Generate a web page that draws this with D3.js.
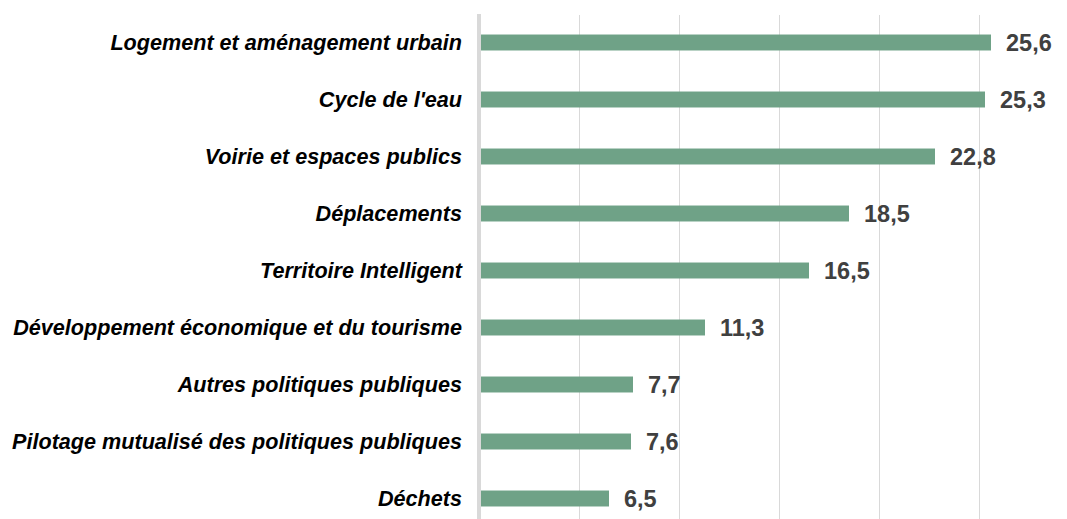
<!DOCTYPE html>
<html>
<head>
<meta charset="utf-8">
<script src="https://cdn.jsdelivr.net/npm/d3@7"></script>
<style>
  body { margin: 0; background: #fff; }
  svg { display: block; }
  .cat-label { font-family: "Liberation Sans", Arial, sans-serif; font-weight: bold; font-style: italic; font-size: 21.6px; fill: #000; }
  .val-label { font-family: "Liberation Sans", Arial, sans-serif; font-weight: bold; font-size: 23.5px; fill: #404040; }
</style>
</head>
<body>
<div id="chart"></div>
<script>
// data
var categories = ["Logement et aménagement urbain", "Cycle de l'eau", "Voirie et espaces publics",
                  "Déplacements", "Territoire Intelligent", "Développement économique et du tourisme",
                  "Autres politiques publiques", "Pilotage mutualisé des politiques publiques", "Déchets"];
var values = [25.6, 25.3, 22.8, 18.5, 16.5, 11.3, 7.7, 7.6, 6.5];
var gridTicks = [5, 10, 15, 20, 25, 30];

var full_width = 1067, full_height = 519;
var margin = {top: 14, left: 479};

var data = categories.map(function(c, i){ return {name: c, value: values[i]} });

var svg = d3.select("#chart").append("svg")
            .attr("width", full_width)
            .attr("height", full_height);

var x = d3.scaleLinear().domain([0, 30]).range([margin.left, margin.left + 600]);
var y = d3.scaleBand().domain(categories).range([margin.top, margin.top + 57 * 9]).paddingInner(0.72).paddingOuter(0.36);

// vertical gridlines
svg.append("g")
   .selectAll("line")
   .data(gridTicks)
   .enter()
   .append("line")
   .attr("x1", d => Math.round(x(d)) + 0.5)
   .attr("x2", d => Math.round(x(d)) + 0.5)
   .attr("y1", margin.top + 1)
   .attr("y2", full_height)
   .attr("stroke", "#d9d9d9")
   .attr("stroke-width", 1);

// bars
svg.append("g")
   .selectAll("rect")
   .data(data)
   .enter()
   .append("rect")
   .attr("x", x(0) + 2)
   .attr("y", d => y(d.name))
   .attr("width", d => x(d.value) - x(0) - 2)
   .attr("height", y.bandwidth())
   .attr("fill", "#6fa287");

// axis line (y axis)
svg.append("line")
   .attr("x1", x(0))
   .attr("x2", x(0))
   .attr("y1", margin.top)
   .attr("y2", full_height)
   .attr("stroke", "#d9d9d9")
   .attr("stroke-width", 4);

// category labels
svg.append("g")
   .selectAll("text")
   .data(data)
   .enter()
   .append("text")
   .attr("class", "cat-label")
   .attr("x", x(0) - 17)
   .attr("y", d => y(d.name) + y.bandwidth() / 2)
   .attr("dy", "0.35em")
   .attr("text-anchor", "end")
   .text(d => d.name);

// value labels
svg.append("g")
   .selectAll("text")
   .data(data)
   .enter()
   .append("text")
   .attr("class", "val-label")
   .attr("x", d => x(d.value) + 15)
   .attr("y", d => y(d.name) + y.bandwidth() / 2)
   .attr("dy", "0.36em")
   .text(d => d3.format(".1f")(d.value).replace(".", ","));
</script>
</body>
</html>
